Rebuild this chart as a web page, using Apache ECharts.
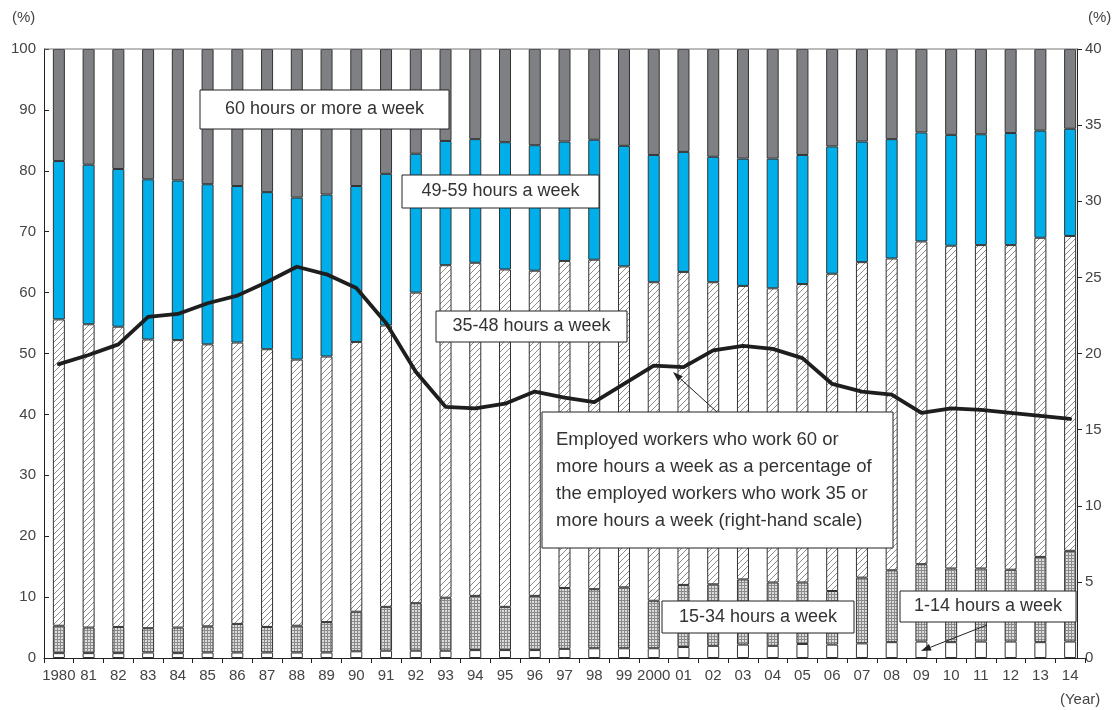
<!DOCTYPE html>
<html>
<head>
<meta charset="utf-8">
<script src="https://cdn.jsdelivr.net/npm/echarts@6/dist/echarts.min.js"></script>
<style>
  html, body { margin: 0; padding: 0; background: #fff; }
  #main { width: 1118px; height: 710px; }
</style>
</head>
<body>
<div id="main"></div>
<script>
var years = ['1980','81','82','83','84','85','86','87','88','89','90','91','92','93','94','95','96','97','98','99',
             '2000','01','02','03','04','05','06','07','08','09','10','11','12','13','14'];

// share of employed workers by weekly hours (%)
var h1to14   = [0.8,0.8,0.8,0.9,0.8,0.9,0.9,0.9,0.9,0.9,1.1,1.2,1.2,1.2,1.3,1.3,1.3,1.5,1.6,1.6,
                1.6,1.8,2.0,2.2,2.0,2.3,2.2,2.4,2.6,2.7,2.6,2.7,2.7,2.6,2.7];
var h15to34  = [4.5,4.2,4.3,4.0,4.2,4.3,4.7,4.2,4.4,5.0,6.5,7.2,7.8,8.7,8.9,7.1,8.9,10.0,9.7,10.0,
                7.8,10.2,10.1,10.7,10.4,10.1,8.8,10.8,11.8,12.7,12.1,12.0,11.8,14.0,14.9];
var h35to48  = [50.3,49.8,49.3,47.4,47.2,46.3,46.2,45.6,43.7,43.6,44.3,46.2,51.0,54.6,54.7,55.4,53.4,53.7,54.1,52.7,
                52.3,51.4,49.6,48.2,48.3,49.0,52.1,51.8,51.2,53.0,53.0,53.1,53.3,52.4,51.7];
var h49to59  = [26.0,26.2,25.9,26.3,26.2,26.3,25.7,25.8,26.6,26.6,25.6,24.9,22.8,20.4,20.3,20.9,20.6,19.6,19.7,19.8,
                20.9,19.7,20.6,20.9,21.3,21.2,20.9,19.8,19.6,17.9,18.2,18.2,18.4,17.6,17.6];
var h60plus  = [18.4,19.0,19.7,21.4,21.6,22.2,22.5,23.5,24.4,23.9,22.5,20.5,17.2,15.1,14.8,15.3,15.8,15.2,14.9,15.9,
                17.4,16.9,17.7,18.0,18.0,17.4,16.0,15.2,14.8,13.7,14.1,14.0,13.8,13.4,13.1];
// 60+ hours as % of 35+ hours (right-hand scale)
var ratio60  = [19.3,19.9,20.6,22.4,22.6,23.3,23.8,24.7,25.7,25.2,24.3,22.0,18.8,16.5,16.4,16.7,17.5,17.1,16.8,18.0,
                19.2,19.1,20.2,20.5,20.3,19.7,18.0,17.5,17.3,16.1,16.4,16.3,16.1,15.9,15.7];

function hatchPattern() {
  var c = document.createElement('canvas');
  c.width = 6; c.height = 6;
  var g = c.getContext('2d');
  g.fillStyle = '#fff';
  g.fillRect(0, 0, 6, 6);
  g.strokeStyle = '#8c8c8c';
  g.lineWidth = 1;
  g.beginPath();
  g.moveTo(-1, 7); g.lineTo(7, -1);
  g.moveTo(-1, 1); g.lineTo(1, -1);
  g.moveTo(5, 7); g.lineTo(7, 5);
  g.stroke();
  return c;
}
function gridPattern() {
  var c = document.createElement('canvas');
  c.width = 3; c.height = 3;
  var g = c.getContext('2d');
  g.fillStyle = '#8a8a8a';
  g.fillRect(0, 0, 3, 3);
  g.fillStyle = '#dcdcdc';
  g.fillRect(1, 1, 2, 2);
  return c;
}

var font = 'Liberation Sans';
var dom = document.getElementById('main');
var myChart = echarts.init(dom, null, { renderer: 'canvas' });

function barSeries(name, data, color) {
  return {
    name: name,
    type: 'bar',
    stack: 'hours',
    barWidth: 12,
    data: data,
    itemStyle: { color: color, borderColor: '#333', borderWidth: 1 },
    emphasis: { disabled: true }
  };
}

function box(x, y, w, h, text, opts) {
  opts = opts || {};
  return [
    { type: 'rect', z: 100, shape: { x: x, y: y, width: w, height: h },
      style: { fill: '#fff', stroke: '#222', lineWidth: 1 } },
    { type: 'text', z: 101, x: opts.left ? x + 14 : x + w / 2, y: y + h / 2,
      style: { text: text, fill: '#333', font: (opts.size || 18) + 'px "' + font + '"',
               align: opts.left ? 'left' : 'center', verticalAlign: 'middle',
               lineHeight: opts.lineHeight || 20 } }
  ];
}

function arrow(x1, y1, x2, y2) {
  var a = Math.atan2(y2 - y1, x2 - x1), L = 10, W = 3.5;
  var bx = x2 - L * Math.cos(a), by = y2 - L * Math.sin(a);
  return [
    { type: 'line', z: 102, shape: { x1: x1, y1: y1, x2: bx, y2: by }, style: { stroke: '#222', lineWidth: 1 } },
    { type: 'polygon', z: 102, shape: { points: [[x2, y2],
        [bx + W * Math.sin(a), by - W * Math.cos(a)],
        [bx - W * Math.sin(a), by + W * Math.cos(a)]] },
      style: { fill: '#222' } }
  ];
}

var graphics = [
  { type: 'line', z: 50, shape: { x1: 44, y1: 49, x2: 1077, y2: 49 }, style: { stroke: '#777', lineWidth: 1 } },
  { type: 'text', x: 12, y: 10, style: { text: '(%)', fill: '#444', font: '15px "' + font + '"' } },
  { type: 'text', x: 1088, y: 10, style: { text: '(%)', fill: '#444', font: '15px "' + font + '"' } },
  { type: 'text', x: 1060, y: 692, style: { text: '(Year)', fill: '#444', font: '15px "' + font + '"' } }
].concat(
  box(200, 90, 249, 39, '60 hours or more a week'),
  box(402, 175, 197, 33, '49-59 hours a week'),
  box(436, 311, 191, 31, '35-48 hours a week'),
  box(542, 412, 351, 136,
      'Employed workers who work 60 or\nmore hours a week as a percentage of\nthe employed workers who work 35 or\nmore hours a week (right-hand scale)',
      { left: true, lineHeight: 27, size: 18.5 }),
  box(662, 601, 192, 32, '15-34 hours a week'),
  box(900, 591, 176, 31, '1-14 hours a week'),
  arrow(717, 412, 673, 372),
  arrow(987, 625, 921, 651)
);

var option = {
  backgroundColor: '#fff',
  animation: false,
  textStyle: { fontFamily: font },
  grid: { left: 44, right: 33, top: 49, bottom: 52 },
  xAxis: {
    type: 'category',
    data: years,
    axisLine: { lineStyle: { color: '#222', width: 1 } },
    axisTick: { show: true, length: 5, lineStyle: { color: '#222' } },
    axisLabel: { color: '#444', fontSize: 15, margin: 10, interval: 0 }
  },
  yAxis: [
    {
      type: 'value', min: 0, max: 100, interval: 10,
      axisLine: { show: true, lineStyle: { color: '#222' } },
      axisTick: { show: true, inside: true, length: 5, lineStyle: { color: '#222' } },
      axisLabel: { color: '#444', fontSize: 15, margin: 8 },
      splitLine: { show: false }
    },
    {
      type: 'value', min: 0, max: 40, interval: 5, position: 'right', offset: -8,
      axisLine: { show: true, lineStyle: { color: '#222' } },
      axisTick: { show: true, length: 5, lineStyle: { color: '#222' } },
      axisLabel: { color: '#444', fontSize: 15, margin: 8 },
      splitLine: { show: false }
    }
  ],
  series: [
    barSeries('1-14 hours a week', h1to14, '#fff'),
    barSeries('15-34 hours a week', h15to34, { image: gridPattern(), repeat: 'repeat' }),
    barSeries('35-48 hours a week', h35to48, { image: hatchPattern(), repeat: 'repeat' }),
    barSeries('49-59 hours a week', h49to59, '#00aee9'),
    barSeries('60 hours or more a week', h60plus, '#7f8084'),
    {
      name: '60+ as share of 35+',
      type: 'line',
      yAxisIndex: 1,
      data: ratio60,
      symbol: 'none',
      z: 5,
      lineStyle: { color: '#1e1e1e', width: 3.8, join: 'round', cap: 'round' },
      emphasis: { disabled: true }
    }
  ],
  graphic: graphics
};

myChart.setOption(option);
window.addEventListener('resize', function () { myChart.resize(); });
</script>
</body>
</html>
